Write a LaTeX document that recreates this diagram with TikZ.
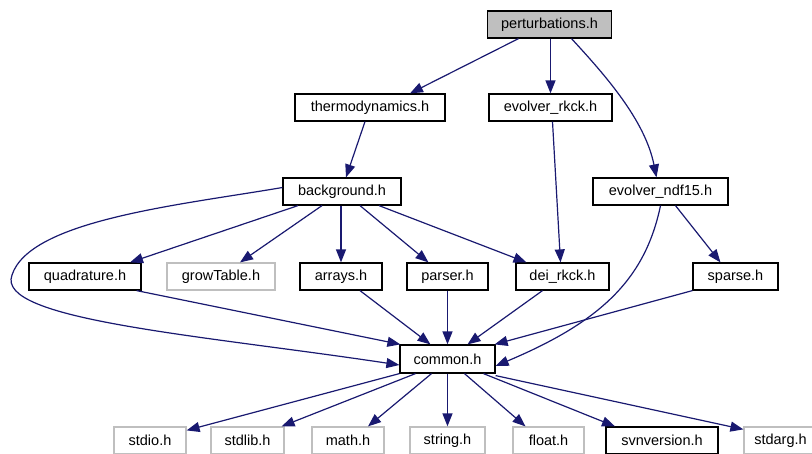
\documentclass[tikz,border=0pt]{standalone}
\usepackage{fontspec}
\setmainfont{Liberation Sans}
\usetikzlibrary{arrows.meta}
\definecolor{edgeblue}{RGB}{25,25,112}
\definecolor{lgray}{RGB}{191,191,191}
\begin{document}
\begin{tikzpicture}[x=1pt,y=-1pt,
 box/.style={draw=black, line width=1.2pt, minimum height=27pt, inner sep=0pt, font=\fontsize{14.5}{17}\selectfont},
 gbox/.style={box, draw=lgray},
 e/.style={draw=edgeblue, line width=1.2pt, -{Triangle[length=13pt,width=10pt]}},
]
\useasboundingbox (0,0) rectangle (812,453);
\node[box, fill=lgray, minimum width=124pt] (pert) at (549.5,24.5) {perturbations.h};
\node[box, minimum width=150pt] (thermo) at (370,107.5) {thermodynamics.h};
\node[box, minimum width=123pt] (rkck) at (550.5,107.5) {evolver\_rkck.h};
\node[box, minimum width=118pt] (bg) at (342,191.5) {background.h};
\node[box, minimum width=135pt] (ndf) at (660.5,191.5) {evolver\_ndf15.h};
\node[box, minimum width=112pt] (quad) at (85,276.5) {quadrature.h};
\node[gbox, minimum width=108pt] (grow) at (221,276.5) {growTable.h};
\node[box, minimum width=82pt] (arrays) at (341,276.5) {arrays.h};
\node[box, minimum width=81pt] (parser) at (447.5,276.5) {parser.h};
\node[box, minimum width=93pt] (dei) at (562.5,276.5) {dei\_rkck.h};
\node[box, minimum width=85pt] (sparse) at (735.5,276.5) {sparse.h};
\node[box, minimum width=95pt, minimum height=28pt] (common) at (447.5,359) {common.h};
\node[gbox, minimum width=72pt] (stdio) at (150,440.5) {stdio.h};
\node[gbox, minimum width=73pt] (stdlib) at (247.5,440.5) {stdlib.h};
\node[gbox, minimum width=72pt] (math) at (348,440.5) {math.h};
\node[gbox, minimum width=75pt] (string) at (447.5,440.5) {string.h};
\node[gbox, minimum width=71pt] (float) at (548.5,440.5) {float.h};
\node[box, minimum width=112pt] (svn) at (662,440.5) {svnversion.h};
\node[gbox, minimum width=73pt] (stdarg) at (780.5,440.5) {stdarg.h};

\draw[e] ([xshift=-31]pert.south) -- ([xshift=40]thermo.north);
\draw[e] ([xshift=1]pert.south) -- (rkck.north);
\draw[e] ([xshift=22]pert.south) .. controls (605,75) and (645,120) .. ([xshift=-4]ndf.north);
\draw[e] ([xshift=-5]thermo.south) -- ([xshift=4]bg.north);
\draw[e] ([xshift=2]rkck.south) -- ([xshift=-2]dei.north);
\draw[e] ([xshift=-44]bg.south) -- ([xshift=45]quad.north);
\draw[e] ([xshift=-20]bg.south) -- ([xshift=19]grow.north);
\draw[e] (bg.south -| arrays.north) -- (arrays.north);
\draw[e] ([xshift=18]bg.south) -- ([xshift=-19]parser.north);
\draw[e] ([xshift=37]bg.south) -- ([xshift=-36]dei.north);
\draw[e] ([yshift=4]bg.west) .. controls (180,205) and (30,220) .. (12,275) .. controls (-5,320) and (200,335) .. ([yshift=-6]common.west);
\draw[e] ([xshift=15]ndf.south) -- ([xshift=-15]sparse.north);
\draw[e] (ndf.south) .. controls (645,280) and (600,322) .. ([yshift=-7]common.east);
\draw[e] ([xshift=-5]quad.south east) -- ([xshift=1]common.north west);
\draw[e] ([xshift=19]arrays.south) -- ([xshift=-17]common.north);
\draw[e] (parser.south) -- (common.north);
\draw[e] ([xshift=-20]dei.south) -- ([xshift=20]common.north);
\draw[e] (sparse.south west) -- ([xshift=-1]common.north east);
\draw[e] (common.south west) -- ([yshift=-4]stdio.north east);
\draw[e] ([xshift=-32]common.south) -- ([xshift=-3]stdlib.north east);
\draw[e] ([xshift=-16]common.south) -- ([xshift=20]math.north);
\draw[e] (common.south) -- (string.north);
\draw[e] ([xshift=17]common.south) -- ([xshift=-23]float.north);
\draw[e] ([xshift=36]common.south) -- ([xshift=-47]svn.north);
\draw[e] ([yshift=-2]common.south east) -- ([yshift=-3]stdarg.north west);
\end{tikzpicture}
\end{document}
